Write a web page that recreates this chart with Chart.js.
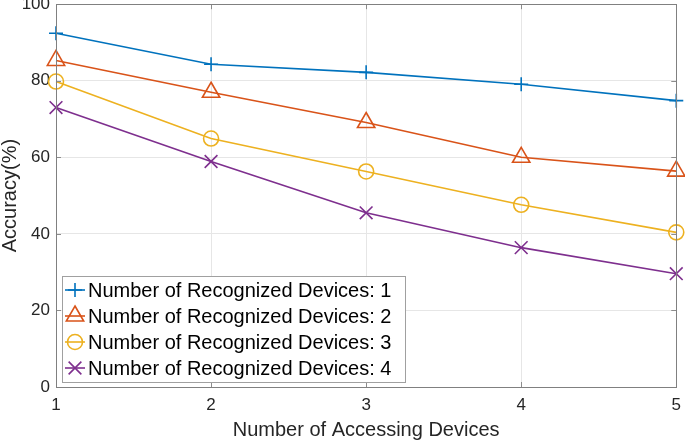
<!DOCTYPE html>
<html>
<head>
<meta charset="utf-8">
<script src="https://cdn.jsdelivr.net/npm/chart.js@4.4.0/dist/chart.umd.min.js"></script>
<style>
  html, body { margin: 0; padding: 0; background: #fff; }
  #outer { width: 685px; height: 440px; position: relative; overflow: hidden; }
  /* canvas is a bit larger so the axes box reaches the top/right edges like the original */
  #wrap { position: absolute; left: 0; top: -12px; width: 689px; height: 452px; }
</style>
</head>
<body>
<div id="outer"><div id="wrap"><canvas id="chart"></canvas></div></div>
<script>
const devices = [1, 2, 3, 4, 5];
const recognized1 = [92.4, 84.3, 82.2, 79.1, 74.8];
const recognized2 = [85.3, 77.0, 69.1, 60.0, 56.4];
const recognized3 = [79.8, 64.9, 56.3, 47.6, 40.4];
const recognized4 = [73.0, 58.9, 45.5, 36.4, 29.6];
const seriesLabels = [
  'Number of Recognized Devices: 1',
  'Number of Recognized Devices: 2',
  'Number of Recognized Devices: 3',
  'Number of Recognized Devices: 4',
];
const yTicks = [0, 20, 40, 60, 80, 100];

const FONT = 'Liberation Sans, Arial, Helvetica, sans-serif';

function ds(label, values, color, style, radius) {
  return {
    label,
    data: values.map((v, i) => ({ x: devices[i], y: v })),
    borderColor: color,
    borderWidth: 1.6,
    pointStyle: style,
    pointRadius: radius,
    pointBorderColor: color,
    pointBackgroundColor: 'rgba(0,0,0,0)',
    pointBorderWidth: 1.6,
    tension: 0,
    clip: false,
  };
}

// MATLAB-ish box, inner tick marks and a legend drawn inside the axes
const matlabBox = {
  id: 'matlabBox',
  afterDatasetsDraw(chart) {
    const { ctx, chartArea: a, scales } = chart;
    ctx.save();
    ctx.strokeStyle = '#8c8c8c';
    ctx.lineWidth = 1;
    ctx.beginPath();
    yTicks.forEach(t => {
      const y = Math.round(scales.y.getPixelForValue(t)) + 0.5;
      ctx.moveTo(a.left, y); ctx.lineTo(a.left + 5, y);
      ctx.moveTo(a.right, y); ctx.lineTo(a.right - 5, y);
    });
    devices.forEach(t => {
      const x = Math.round(scales.x.getPixelForValue(t)) + 0.5;
      ctx.moveTo(x, a.bottom); ctx.lineTo(x, a.bottom - 5);
      ctx.moveTo(x, a.top); ctx.lineTo(x, a.top + 5);
    });
    ctx.stroke();
    ctx.strokeStyle = '#808080';
    ctx.strokeRect(Math.round(a.left) + 0.5, Math.round(a.top) + 0.5,
      Math.round(a.right - a.left), Math.round(a.bottom - a.top));

    // legend, placed relative to the bottom-left corner of the axes
    const rowH = 26, n = chart.data.datasets.length;
    const bh = rowH * n + 2, bw = 343;
    const bx = a.left + 6, by = a.bottom - 5 - bh;
    ctx.fillStyle = '#fff';
    ctx.fillRect(bx, by, bw, bh);
    ctx.strokeStyle = '#a0a0a0';
    ctx.strokeRect(bx + 0.5, by + 0.5, bw, bh);
    ctx.font = '20px ' + FONT;
    ctx.textBaseline = 'middle';
    chart.data.datasets.forEach((d, i) => {
      const cy = by + 14 + i * rowH;
      ctx.strokeStyle = d.borderColor;
      ctx.lineWidth = 1.6;
      ctx.beginPath();
      ctx.moveTo(bx + 3, cy); ctx.lineTo(bx + 23, cy);
      ctx.stroke();
      ctx.fillStyle = 'rgba(0,0,0,0)';
      Chart.helpers.drawPoint(ctx, {
        pointStyle: d.pointStyle,
        radius: d.pointStyle === 'crossRot' ? 9 : d.pointRadius,
        rotation: 0,
        borderWidth: 1.6,
      }, bx + 13, cy);
      ctx.fillStyle = '#000';
      ctx.fillText(d.label, bx + 26, cy + 1);
    });
    ctx.restore();
  }
};

new Chart(document.getElementById('chart'), {
  type: 'line',
  data: {
    datasets: [
      ds(seriesLabels[0], recognized1, '#0072BD', 'cross', 7),
      ds(seriesLabels[1], recognized2, '#D95319', 'triangle', 10),
      ds(seriesLabels[2], recognized3, '#EDB120', 'circle', 7.5),
      ds(seriesLabels[3], recognized4, '#7E2F8E', 'crossRot', 9),
    ]
  },
  options: {
    responsive: true,
    maintainAspectRatio: false,
    animation: false,
    layout: { padding: 0 },
    plugins: { legend: { display: false }, tooltip: { enabled: false } },
    scales: {
      x: {
        type: 'linear',
        min: 1, max: 5,
        afterBuildTicks: s => { s.ticks = devices.map(v => ({ value: v })); },
        afterFit: s => { s.height = 53; },
        grid: { color: '#e6e6e6', drawTicks: false },
        border: { display: false },
        ticks: { color: '#262626', font: { family: FONT, size: 17 }, padding: 8, maxRotation: 0 },
        title: {
          display: true, text: 'Number of Accessing Devices',
          color: '#262626', font: { family: FONT, size: 20, lineHeight: 1 }, padding: { top: 0, bottom: 0 }
        },
      },
      y: {
        min: 0, max: 100,
        afterBuildTicks: s => { s.ticks = yTicks.map(v => ({ value: v })); },
        afterFit: s => { s.width = 56; },
        grid: { color: '#e6e6e6', drawTicks: false },
        border: { display: false },
        ticks: { color: '#262626', font: { family: FONT, size: 17 }, padding: 6 },
        title: {
          display: true, text: 'Accuracy(%)',
          color: '#262626', font: { family: FONT, size: 20, lineHeight: 1 }, padding: { top: 0, bottom: 0 }
        },
      },
    },
  },
  plugins: [matlabBox],
});
</script>
</body>
</html>
